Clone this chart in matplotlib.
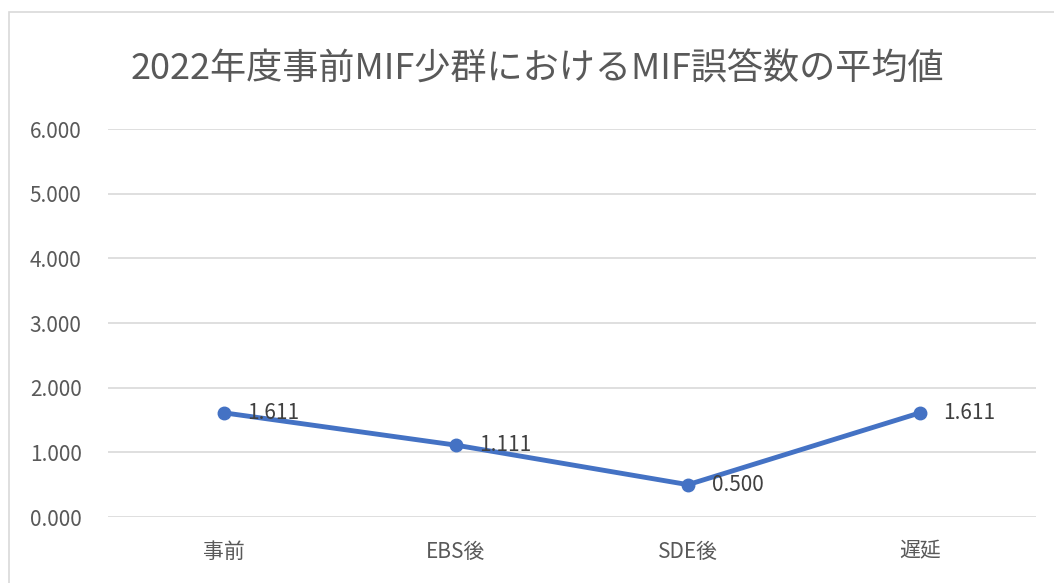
import matplotlib.pyplot as plt
from matplotlib.patches import Rectangle

plt.rcParams['font.family'] = ['Noto Sans CJK JP', 'DejaVu Sans']

# データ
categories = ['事前', 'EBS後', 'SDE後', '遅延']
values = [1.611, 1.111, 0.500, 1.611]
y_ticks = [0, 1, 2, 3, 4, 5, 6]

text_color = '#595959'
line_color = '#4472C4'

fig = plt.figure(figsize=(10.54, 5.83), dpi=100)

# グラフ枠
fig.patches.append(Rectangle((9 / 1054, -0.01), 1.02, 1 - 12 / 583 + 0.01,
                             transform=fig.transFigure, fill=False,
                             edgecolor='#D9D9D9', linewidth=1.2))

ax = fig.add_axes([108 / 1054, 1 - 517 / 583, 928 / 1054, 388 / 583])

x = range(len(categories))
ax.plot(x, values, color=line_color, linewidth=3.5, marker='o',
        markersize=9, zorder=3)

for xi, v in zip(x, values):
    ax.annotate(f'{v:.3f}', (xi, v), xytext=(17, 0), textcoords='offset points',
                ha='left', va='center', fontsize=15, color='#404040', zorder=4)

ax.set_xlim(-0.5, len(categories) - 0.5)
ax.set_ylim(0, 6)
ax.set_yticks(y_ticks)
ax.set_yticklabels([f'{t:.3f}' for t in y_ticks])
ax.set_xticks(list(x))
ax.set_xticklabels(categories)
ax.tick_params(axis='both', length=0, labelsize=15, colors=text_color)
ax.tick_params(axis='y', pad=19)
ax.tick_params(axis='x', pad=17)
ax.grid(axis='y', color='#D9D9D9', linewidth=1.2)
ax.set_axisbelow(True)
for s in ax.spines.values():
    s.set_visible(False)

fig.text(537 / 1054, 1 - 70 / 583, '2022年度事前MIF少群におけるMIF誤答数の平均値',
         ha='center', va='center', fontsize=26, color=text_color)

fig.savefig('out.png', dpi=100)
